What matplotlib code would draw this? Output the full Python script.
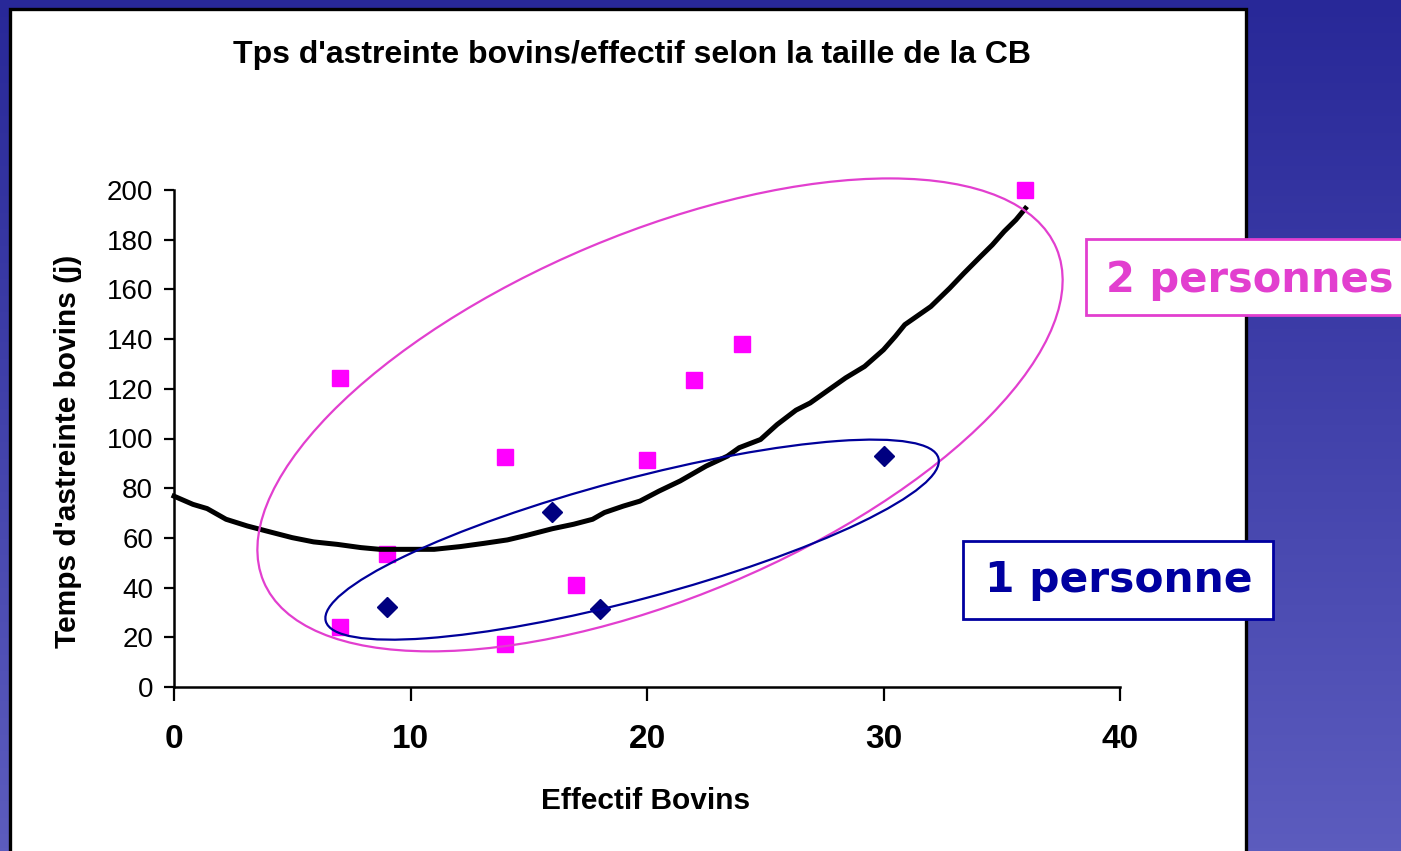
import numpy as np
import matplotlib
matplotlib.use("Agg")
import matplotlib.pyplot as plt
from matplotlib.patches import Rectangle, Ellipse
from matplotlib.transforms import ScaledTranslation

# data
x_2p = [7, 7, 9, 14, 14, 17, 20, 22, 24, 36]
y_2p = [124.5, 24, 53.5, 92.5, 17.5, 41, 91.3, 123.4, 138, 200]

x_1p = [9, 16, 18, 30]
y_1p = [32, 70.4, 31.3, 92.9]

# trend curve (black) as seen on the chart
x_tr = [0, 0.8, 1.4, 2.2, 3.1, 3.9, 5.0, 5.9, 6.9, 7.9, 8.7, 10.0, 11.0, 12.1, 13.1,
        14.1, 14.9, 16.0, 16.9, 17.7, 18.2, 19.0, 19.7, 20.5, 21.4, 22.5, 23.4, 23.9,
        24.8, 25.5, 26.3, 26.9, 27.7, 28.4, 29.2, 30.0, 30.5, 30.9, 32.0, 32.8, 33.4,
        34.1, 34.6, 35.1, 35.6, 36.0]
y_tr = [76.8, 73.5, 71.8, 67.5, 64.8, 62.8, 60.1, 58.4, 57.4, 56.1, 55.4, 55.4, 55.4,
        56.5, 57.8, 59.2, 61.0, 63.7, 65.5, 67.5, 70.2, 72.8, 74.8, 78.8, 82.9, 88.9,
        92.9, 96.3, 99.6, 105.6, 111.4, 114.3, 119.7, 124.4, 129.0, 135.7, 141.1, 145.8,
        153.1, 160.5, 166.5, 173.2, 177.9, 183.3, 188.0, 192.6]

title = "Tps d'astreinte bovins/effectif selon la taille de la CB"
xlabel = "Effectif Bovins"
ylabel = "Temps d'astreinte bovins (j)"
xticks = [0, 10, 20, 30, 40]
yticks = list(range(0, 201, 20))

W, H = 1401, 851
def fx(px): return px / W
def fy(py): return 1 - py / H

MAG = '#e23fcf'
NAVY = '#00008f'

fig = plt.figure(figsize=(W / 100, H / 100), dpi=100)

# slide background gradient
bg = fig.add_axes([0, 0, 1, 1], zorder=-10)
grad = np.linspace(0, 1, 256).reshape(-1, 1)
top = np.array([40, 40, 152]) / 255
bot = np.array([92, 92, 190]) / 255
img = top + (bot - top) * grad[:, :, None]
bg.imshow(img, aspect='auto', extent=[0, 1, 0, 1])
bg.set_axis_off()

# white chart panel
fig.patches.append(Rectangle((fx(10), fy(870)), fx(1246) - fx(10), fy(9) - fy(870),
                             transform=fig.transFigure, facecolor='white',
                             edgecolor='black', linewidth=2.4, zorder=-5))

ax = fig.add_axes([fx(174), fy(687), fx(1120) - fx(174), fy(190) - fy(687)])
ax.set_facecolor('none')
ax.plot(x_2p, y_2p, ls='none', marker='s', ms=11.5, color='#ff00ff', clip_on=False, zorder=3)
ax.plot(x_1p, y_1p, ls='none', marker='D', ms=10, color='#000080', clip_on=False, zorder=3)
ax.plot(x_tr, y_tr, color='black', lw=3.6, clip_on=False, zorder=4)

ax.set_xlim(0, 40)
ax.set_ylim(0, 200)
ax.set_xticks(xticks)
ax.set_yticks(yticks)
for s in ['top', 'right']:
    ax.spines[s].set_visible(False)
for s in ['left', 'bottom']:
    ax.spines[s].set_linewidth(1.8)
ax.tick_params(axis='y', direction='out', length=7, width=1.6, pad=8,
               labelsize=20)
ax.tick_params(axis='x', direction='out', length=10, width=1.6, pad=17,
               labelsize=24)
for lb in ax.get_yticklabels():
    lb.set_family('Liberation Sans')
for lb in ax.get_xticklabels():
    lb.set_family('Liberation Sans')
    lb.set_fontweight('bold')

# ellipses grouping the two populations
def group_ellipse(cx, cy, a_px, b_px, ang, color):
    e = Ellipse((0, 0), 2 * a_px / 100, 2 * b_px / 100, angle=ang, fill=False,
                edgecolor=color, lw=1.6,
                transform=fig.dpi_scale_trans + ScaledTranslation(cx, cy, ax.transData),
                clip_on=False, zorder=5)
    ax.add_patch(e)

group_ellipse(20.55, 109.5, 430, 182, 22.8, MAG)
group_ellipse(19.37, 59.3, 317, 60, 14.9, '#00009a')

fig.text(fx(632), fy(55), title, ha='center', va='center', fontsize=23,
         fontweight='bold', family='Liberation Sans')
fig.text(fx(646), fy(801), xlabel, ha='center', va='center', fontsize=21.5,
         fontweight='bold', family='Liberation Sans')
fig.text(fx(68), fy(451), ylabel, ha='center', va='center', rotation=90,
         fontsize=21.5, fontweight='bold', family='Liberation Sans')

# labelled boxes
fig.patches.append(Rectangle((fx(1086), fy(315)), fx(1420) - fx(1086), fy(239) - fy(315),
                             transform=fig.transFigure, facecolor='white',
                             edgecolor=MAG, linewidth=2, zorder=6))
fig.text(fx(1106), fy(280), "2 personnes", ha='left', va='center', fontsize=30,
         fontweight='bold', color=MAG, family='DejaVu Sans', zorder=7)
fig.patches.append(Rectangle((fx(963), fy(619)), fx(1273) - fx(963), fy(541) - fy(619),
                             transform=fig.transFigure, facecolor='white',
                             edgecolor='#0000a0', linewidth=2, zorder=6))
fig.text(fx(1119), fy(580), "1 personne", ha='center', va='center', fontsize=30.5,
         fontweight='bold', color='#0000a0', family='DejaVu Sans', zorder=7)

fig.savefig('out.png', dpi=100)
